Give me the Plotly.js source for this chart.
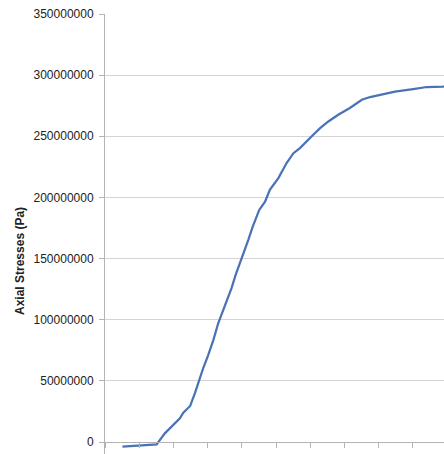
<!DOCTYPE html>
<html>
<head>
<meta charset="utf-8">
<script src="https://cdn.plot.ly/plotly-3.0.1.min.js"></script>
<style>html,body{margin:0;padding:0;background:#fff;}#chart{width:444px;height:454px;}</style>
</head>
<body>
<div id="chart"></div>
<script>
// Step position (category units along the horizontal axis)
var steps = [0.51, 1.51, 1.75, 1.95, 2.19, 2.29, 2.49, 2.63, 2.75, 2.87, 3.02, 3.17, 3.31, 3.38, 3.56, 3.70, 3.82, 3.95, 4.06, 4.19, 4.32, 4.39, 4.51, 4.68, 4.82, 5.07, 5.31, 5.51, 5.70, 6.09, 6.29, 6.53, 6.82, 7.16, 7.51, 7.75, 8.04, 8.48, 9.01, 9.41, 9.89, 10.2];
// Axial stress in Pa
var stresses = [-3.8e6, -1.9e6, 7.1e6, 12.5e6, 19.4e6, 24.0e6, 29.5e6, 39.9e6, 50.7e6, 60.3e6, 71.2e6, 83.5e6, 97.1e6, 102.5e6, 114.8e6, 125.8e6, 136.7e6, 146.2e6, 155.7e6, 165.3e6, 176.2e6, 181.7e6, 189.8e6, 196.6e6, 206.2e6, 215.8e6, 228.1e6, 236.2e6, 240.3e6, 251.2e6, 256.7e6, 262.1e6, 267.6e6, 273.1e6, 279.9e6, 282.1e6, 284.0e6, 286.6e6, 288.6e6, 290.3e6, 290.7e6, 291.2e6];
var yTickVals = [0, 50000000, 100000000, 150000000, 200000000, 250000000, 300000000, 350000000];
var yTickText = ["0", "50000000", "100000000", "150000000", "200000000", "250000000", "300000000", "350000000"];
var yTitle = "Axial Stresses (Pa)";

var yMin = -9.8e6, yMax = 350e6;
var xMax = (444 - 105) / 34.2;

var trace = {
  x: steps, y: stresses, type: 'scatter', mode: 'lines',
  line: {color: '#4a73b5', width: 2.25, shape: 'linear'},
  hoverinfo: 'skip', cliponaxis: true
};

var layout = {
  width: 444, height: 454,
  margin: {l: 105, r: 0, t: 14, b: 0, pad: 0},
  paper_bgcolor: '#ffffff', plot_bgcolor: '#ffffff',
  showlegend: false,
  font: {family: 'Liberation Sans, Arial, sans-serif', size: 12, color: '#222'},
  xaxis: {
    range: [0, xMax], tick0: 0, dtick: 1, showgrid: false, zeroline: false,
    showline: true, linecolor: '#b3b3b3', linewidth: 1,
    ticks: 'outside', ticklen: 5, tickcolor: '#b3b3b3', tickwidth: 1,
    showticklabels: false, anchor: 'free',
    position: (0 - yMin) / (yMax - yMin)
  },
  yaxis: {
    range: [yMin, yMax], tickvals: yTickVals, ticktext: yTickText,
    showgrid: true, gridcolor: '#d4d4d4', gridwidth: 1, zeroline: false,
    showline: true, linecolor: '#b3b3b3', linewidth: 1,
    ticks: 'outside', ticklen: 5, tickcolor: '#b3b3b3', tickwidth: 1,
    tickfont: {family: 'Liberation Sans, Arial, sans-serif', size: 12, color: '#222'},
    ticklabelstandoff: 3
  },
  annotations: [{
    text: '<b>' + yTitle + '</b>', xref: 'paper', yref: 'paper',
    x: (20 - 105) / 339, y: (454 - 261) / 440, xanchor: 'center', yanchor: 'middle',
    textangle: -90, showarrow: false,
    font: {family: 'Liberation Sans, Arial, sans-serif', size: 12, color: '#222'}
  }]
};

Plotly.newPlot('chart', [trace], layout, {staticPlot: true, displayModeBar: false});
</script>
</body>
</html>
